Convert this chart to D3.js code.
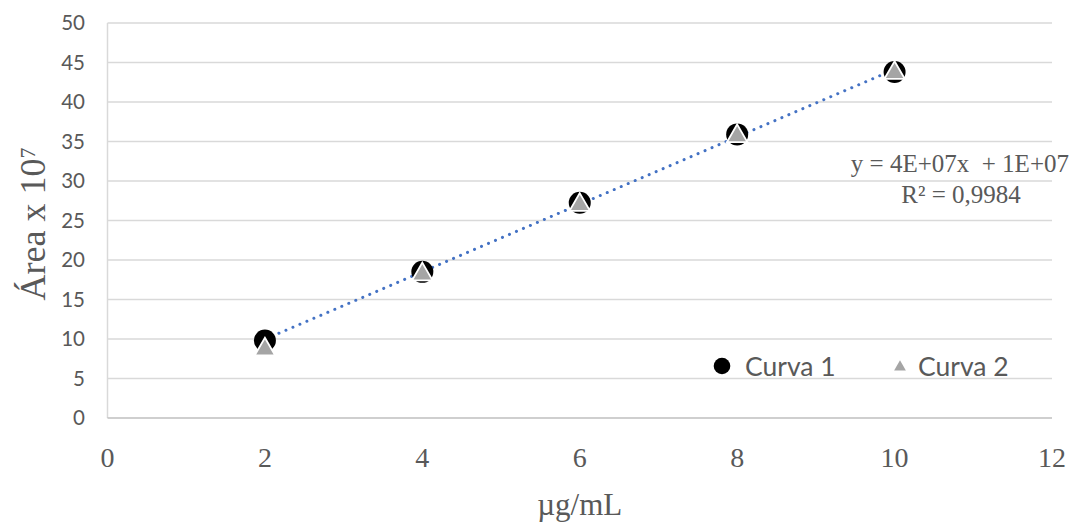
<!DOCTYPE html>
<html>
<head>
<meta charset="utf-8">
<script src="https://cdn.jsdelivr.net/npm/d3@7"></script>
<style>
  body { margin: 0; background: #fff; }
  svg { display: block; }
</style>
</head>
<body>
<svg id="chart" width="1072" height="523"></svg>
<script>
const concentrations = [2, 4, 6, 8, 10];
const curva1 = [9.8, 18.5, 27.25, 35.9, 43.8];
const curva2 = [8.8, 18.3, 27.1, 35.8, 43.8];
const xTicks = [0, 2, 4, 6, 8, 10, 12];
const yTicks = [0, 5, 10, 15, 20, 25, 30, 35, 40, 45, 50];
const seriesNames = ["Curva 1", "Curva 2"];
const equationText = "y = 4E+07x\u00a0\u00a0+ 1E+07";
const r2Text = "R² = 0,9984";

const svg = d3.select("#chart");
const g = svg.append("g");

const x = d3.scaleLinear().domain([0, 12]).range([107.5, 1052]);
const y = d3.scaleLinear().domain([0, 50]).range([418, 23]);

const grey = "#595959";
const serif = "'Liberation Serif', 'Times New Roman', serif";
const sans = "Lato, 'Open Sans', sans-serif";

// gridlines
g.selectAll(".grid").data(yTicks.filter(d => d > 0)).join("line")
    .attr("x1", x(0)).attr("x2", x(12))
    .attr("y1", d => y(d)).attr("y2", d => y(d))
    .attr("stroke", "#d9d9d9").attr("stroke-width", 1.3);

g.append("line").attr("x1", x(0)).attr("x2", x(0)).attr("y1", y(50)).attr("y2", y(0))
    .attr("stroke", "#d9d9d9").attr("stroke-width", 1.5);
g.append("line").attr("x1", x(0)).attr("x2", x(12)).attr("y1", y(0)).attr("y2", y(0))
    .attr("stroke", "#bfbfbf").attr("stroke-width", 1.5);

// y tick labels
g.selectAll(".ytick").data(yTicks).join("text")
    .attr("x", 85).attr("y", d => y(d)).attr("dy", "0.35em")
    .attr("text-anchor", "end").attr("fill", grey)
    .style("font-family", sans).style("font-size", "20.5px")
    .text(d => d);

// x tick labels
g.selectAll(".xtick").data(xTicks).join("text")
    .attr("x", d => x(d)).attr("y", 467)
    .attr("text-anchor", "middle").attr("fill", grey)
    .style("font-family", serif).style("font-size", "28px")
    .text(d => d);

// axis titles
g.append("text").attr("x", x(6)).attr("y", 515).attr("text-anchor", "middle").attr("fill", grey)
    .style("font-family", serif).style("font-size", "31px")
    .text("µg/mL");

const yt = g.append("text").attr("transform", "translate(45,224) rotate(-90)")
    .attr("text-anchor", "middle").attr("fill", grey)
    .style("font-family", serif).style("font-size", "36px");
yt.append("tspan").text("Área x 10");
yt.append("tspan").attr("dy", "-0.45em").style("font-size", "22px").text("7");

// linear trendline (least squares on Curva 1)
const mx = d3.mean(concentrations), my = d3.mean(curva1);
const slope = d3.sum(concentrations, (c, i) => (c - mx) * (curva1[i] - my)) / d3.sum(concentrations, c => (c - mx) ** 2);
const icpt = my - slope * mx;
const xMin = d3.min(concentrations), xMax = d3.max(concentrations);
g.append("line")
    .attr("x1", x(xMin)).attr("y1", y(icpt + slope * xMin))
    .attr("x2", x(xMax)).attr("y2", y(icpt + slope * xMax))
    .attr("stroke", "#4472c4").attr("stroke-width", 3)
    .attr("stroke-linecap", "round").attr("stroke-dasharray", "0.1 7.5");

// Curva 1 markers
g.selectAll(".c1").data(concentrations).join("circle")
    .attr("cx", d => x(d)).attr("cy", (d, i) => y(curva1[i])).attr("r", 11)
    .attr("fill", "#000");

// Curva 2 markers
const tri = d3.symbol().type(d3.symbolTriangle).size(180);
g.selectAll(".c2").data(concentrations).join("path")
    .attr("d", tri)
    .attr("transform", (d, i) => `translate(${x(d)},${y(curva2[i]) + 1})`)
    .attr("fill", "#a5a5a5").attr("stroke", "#fff").attr("stroke-width", 1.8);

// trendline label
g.append("text").attr("x", 1069).attr("y", 172).attr("text-anchor", "end").attr("fill", grey)
    .style("font-family", serif).style("font-size", "25px")
    .text(equationText);
g.append("text").attr("x", 961).attr("y", 203).attr("text-anchor", "middle").attr("fill", grey)
    .style("font-family", serif).style("font-size", "25px")
    .text(r2Text);

// legend
const legend = g.append("g").attr("transform", "translate(722,366)");
legend.append("circle").attr("cx", 0).attr("cy", 0).attr("r", 8.3).attr("fill", "#000");
legend.append("text").attr("x", 23).attr("y", 10).attr("fill", grey)
    .style("font-family", sans).style("font-size", "26.5px")
    .text(seriesNames[0]);
legend.append("path").attr("d", d3.symbol().type(d3.symbolTriangle).size(60))
    .attr("transform", "translate(178,1)").attr("fill", "#a5a5a5");
legend.append("text").attr("x", 196).attr("y", 10).attr("fill", grey)
    .style("font-family", sans).style("font-size", "26.5px")
    .text(seriesNames[1]);
</script>
</body>
</html>
